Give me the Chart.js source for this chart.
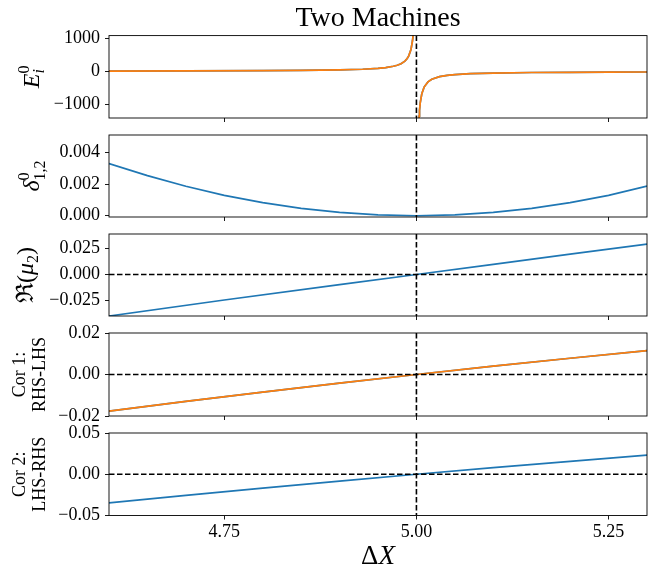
<!DOCTYPE html>
<html>
<head>
<meta charset="utf-8">
<script src="https://cdn.jsdelivr.net/npm/chart.js@4.4.1/dist/chart.umd.min.js"></script>
<style>
  html, body { margin: 0; padding: 0; background: #fff; }
  #wrap { position: relative; width: 662px; height: 568px; }
  .panel { position: absolute; left: 0; width: 662px; }
</style>
</head>
<body>
<div id="wrap">
  <div class="panel" style="top:0px;height:124px"><canvas id="p1"></canvas></div>
  <div class="panel" style="top:123px;height:100px"><canvas id="p2"></canvas></div>
  <div class="panel" style="top:222px;height:100px"><canvas id="p3"></canvas></div>
  <div class="panel" style="top:321px;height:101px"><canvas id="p4"></canvas></div>
  <div class="panel" style="top:421px;height:147px"><canvas id="p5"></canvas></div>
</div>
<script>
// shared x axis
const xMin = 4.6, xMax = 5.3;
const xTicks = [4.75, 5.0, 5.25];
const xTickLabels = ['4.75', '5.00', '5.25'];
const markerX = 5.0;

// E_i^0 (null = break at the pole)
const eX = [4.60, 4.70, 4.80, 4.85, 4.90, 4.93, 4.95, 4.96, 4.97, 4.975, 4.98, 4.985, 4.988, 4.99, 4.993, 4.995, 4.996, 4.997,
            5.0,
            5.003, 5.0035, 5.004, 5.005, 5.007, 5.01, 5.015, 5.02, 5.03, 5.04, 5.05, 5.07, 5.10, 5.15, 5.20, 5.25, 5.30];
const eY = [12, 16, 24, 31, 47, 67, 94, 118, 157, 188, 235, 313, 392, 470, 671, 940, 1175, 1567,
            null,
            -1567, -1343, -1175, -940, -671, -470, -313, -235, -157, -118, -94, -67, -47, -31, -24, -19, -16];
const eTicks = [-1000, 0, 1000];
const eTickLabels = ['\u22121000', '0', '1000'];

// delta^0_{1,2}
const deltaX = [4.60, 4.65, 4.70, 4.75, 4.80, 4.85, 4.90, 4.95, 5.00, 5.05, 5.10, 5.15, 5.20, 5.25, 5.30];
const deltaY = [0.0033, 0.00253, 0.00186, 0.00129, 0.00083, 0.00047, 0.00021, 0.00005, 0.0, 0.00005, 0.00021, 0.00047, 0.00083, 0.00129, 0.00187];
const deltaTicks = [0, 0.002, 0.004];
const deltaTickLabels = ['0.000', '0.002', '0.004'];

// Re(mu_2)
const muX = [4.60, 4.75, 4.90, 5.00, 5.10, 5.20, 5.30];
const muY = [-0.0403, -0.0248, -0.0099, 0.0, 0.0099, 0.0197, 0.0295];
const muTicks = [-0.025, 0, 0.025];
const muTickLabels = ['\u22120.025', '0.000', '0.025'];

// Cor 1: RHS-LHS
const cor1X = [4.60, 4.70, 4.80, 4.90, 5.00, 5.10, 5.20, 5.30];
const cor1Y = [-0.01765, -0.01299, -0.00849, -0.00416, 0.0, 0.0040, 0.00783, 0.0115];
const cor1Ticks = [-0.02, 0, 0.02];
const cor1TickLabels = ['\u22120.02', '0.00', '0.02'];

// Cor 2: LHS-RHS
const cor2X = [4.60, 4.70, 4.80, 4.90, 5.00, 5.10, 5.20, 5.30];
const cor2Y = [-0.0348, -0.0257, -0.0168, -0.0083, 0.0, 0.0080, 0.0157, 0.0231];
const cor2Ticks = [-0.05, 0, 0.05];
const cor2TickLabels = ['\u22120.05', '0.00', '0.05'];

const BLUE = '#1f77b4', ORANGE = '#ff7f0e';
const SERIF = "'Liberation Serif', 'DejaVu Serif', serif";

function pts(xs, ys) {
    return xs.map(function(x, i) { return {x: x, y: ys[i]}; });
}

// draw a run of text pieces (for the math labels), optionally rotated
function drawRuns(ctx, runs, cx, cy, rotate) {
    var starts = [], cursor = 0, prevStart = 0;
    runs.forEach(function(r) {
        ctx.font = r.f;
        var w = ctx.measureText(r.t).width;
        var s = r.stack ? prevStart : cursor;
        starts.push(s);
        cursor = Math.max(cursor, s + w);
        prevStart = s;
    });
    ctx.save();
    ctx.translate(cx, cy);
    if (rotate) ctx.rotate(-Math.PI / 2);
    ctx.fillStyle = '#000';
    ctx.textBaseline = 'alphabetic';
    ctx.textAlign = 'left';
    runs.forEach(function(r, i) {
        ctx.font = r.f;
        ctx.fillText(r.t, starts[i] - cursor / 2, (r.base || 0) + (r.dy || 0));
    });
    ctx.restore();
}

const decor = {
    id: 'decor',
    afterDatasetsDraw: function(chart, args, opts) {
        var ctx = chart.ctx, a = chart.chartArea;
        ctx.save();
        ctx.beginPath();
        ctx.rect(a.left, a.top, a.right - a.left, a.bottom - a.top);
        ctx.clip();
        ctx.strokeStyle = '#000';
        ctx.lineWidth = 1.6;
        ctx.setLineDash([5.5, 2.5]);
        var px = chart.scales.x.getPixelForValue(markerX);
        ctx.beginPath();
        ctx.moveTo(px, a.top);
        ctx.lineTo(px, a.bottom);
        ctx.stroke();
        if (opts.zeroLine) {
            var py = chart.scales.y.getPixelForValue(0);
            ctx.beginPath();
            ctx.moveTo(a.left, py);
            ctx.lineTo(a.right, py);
            ctx.stroke();
        }
        ctx.restore();
    },
    afterDraw: function(chart, args, opts) {
        var ctx = chart.ctx, a = chart.chartArea;
        ctx.save();
        ctx.strokeStyle = '#000';
        ctx.lineWidth = 0.9;
        ctx.strokeRect(a.left, a.top, a.right - a.left, a.bottom - a.top);
        ctx.restore();
        (opts.yLabel || []).forEach(function(l) {
            drawRuns(ctx, l.runs, l.x, (a.top + a.bottom) / 2, true);
        });
        if (opts.xLabel) {
            drawRuns(ctx, opts.xLabel, (a.left + a.right) / 2, a.bottom + 39, false);
        }
    }
};

function makePanel(id, o) {
    var last = !!o.last;
    new Chart(document.getElementById(id), {
        type: 'line',
        data: {
            datasets: o.series.map(function(s) {
                return {
                    data: pts(s.x, s.y),
                    borderColor: s.color,
                    borderWidth: 1.7,
                    pointRadius: 0,
                    tension: 0,
                    fill: false
                };
            })
        },
        options: {
            responsive: true,
            maintainAspectRatio: false,
            animation: false,
            layout: {padding: {left: 0, right: 15, top: o.padTop, bottom: 0}},
            plugins: {
                legend: {display: false},
                tooltip: {enabled: false},
                title: o.title ? {
                    display: true,
                    text: o.title,
                    fullSize: false,
                    color: '#000',
                    font: {family: SERIF, size: 28, weight: 'normal'},
                    padding: {top: 2, bottom: 0}
                } : {display: false},
                decor: {yLabel: o.yLabel, zeroLine: o.zeroLine, xLabel: o.xLabel}
            },
            scales: {
                x: {
                    type: 'linear',
                    min: xMin,
                    max: xMax,
                    afterBuildTicks: function(s) { s.ticks = xTicks.map(function(v) { return {value: v}; }); },
                    afterFit: function(s) { s.height = o.xh; s.paddingLeft = 0; s.paddingRight = 0; },
                    grid: {drawOnChartArea: false, drawTicks: true, tickLength: 4, color: '#000', lineWidth: 0.9},
                    border: {display: false},
                    ticks: {
                        display: last,
                        autoSkip: false,
                        maxRotation: 0,
                        padding: 2,
                        color: '#000',
                        font: {family: SERIF, size: 18},
                        callback: function(v, i) { return xTickLabels[i]; }
                    }
                },
                y: {
                    type: 'linear',
                    min: o.range[0],
                    max: o.range[1],
                    afterBuildTicks: function(s) { s.ticks = o.ticks.map(function(v) { return {value: v}; }); },
                    afterFit: function(s) { s.width = 109; s.paddingTop = 0; s.paddingBottom = 0; },
                    grid: {drawOnChartArea: false, drawTicks: true, tickLength: 4, color: '#000', lineWidth: 0.9},
                    border: {display: false},
                    ticks: {
                        autoSkip: false,
                        padding: 5,
                        color: '#000',
                        font: {family: SERIF, size: 18},
                        callback: function(v, i) { return o.tickLabels[i]; }
                    }
                }
            }
        },
        plugins: [decor]
    });
}

var big = '24px ' + SERIF, bigI = 'italic 24px ' + SERIF;
var sm = '16px ' + SERIF, smI = 'italic 16px ' + SERIF;

makePanel('p1', {
    padTop: 0, xh: 6, title: 'Two Machines',
    range: [-1400, 1080], ticks: eTicks, tickLabels: eTickLabels,
    series: [{x: eX, y: eY, color: ORANGE}, {x: eX, y: eY, color: BLUE}],
    yLabel: [{x: 31, runs: [
        {t: 'E', f: bigI, base: 8},
        {t: 'i', f: smI, base: 8, dy: 5},
        {t: '0', f: sm, base: 8, dy: -10, stack: true}
    ]}]
});
makePanel('p2', {
    padTop: 12, xh: 6,
    range: [-0.00008, 0.0051], ticks: deltaTicks, tickLabels: deltaTickLabels,
    series: [{x: deltaX, y: deltaY, color: BLUE}],
    yLabel: [{x: 31, runs: [
        {t: '\u03b4', f: bigI, base: 8},
        {t: '0', f: sm, base: 8, dy: -10},
        {t: '1,2', f: sm, base: 8, dy: 6, stack: true}
    ]}]
});
makePanel('p3', {
    padTop: 12, xh: 6, zeroLine: true,
    range: [-0.0403, 0.0393], ticks: muTicks, tickLabels: muTickLabels,
    series: [{x: muX, y: muY, color: BLUE}],
    yLabel: [{x: 25, runs: [
        {t: '\u211c', f: big, base: 8},
        {t: '(', f: big, base: 8},
        {t: '\u03bc', f: bigI, base: 8},
        {t: '2', f: sm, base: 8, dy: 5},
        {t: ')', f: big, base: 8}
    ]}]
});
makePanel('p4', {
    padTop: 12, xh: 6, zeroLine: true,
    range: [-0.02, 0.02], ticks: cor1Ticks, tickLabels: cor1TickLabels,
    series: [{x: cor1X, y: cor1Y, color: ORANGE}, {x: cor1X, y: cor1Y, color: BLUE}],
    yLabel: [
        {x: 19, runs: [{t: 'Cor 1:', f: '18px ' + SERIF, base: 6}]},
        {x: 39, runs: [{t: 'RHS-LHS', f: '18px ' + SERIF, base: 6}]}
    ]
});
makePanel('p5', {
    padTop: 12, xh: 52.5, zeroLine: true, last: true,
    range: [-0.05, 0.05], ticks: cor2Ticks, tickLabels: cor2TickLabels,
    series: [{x: cor2X, y: cor2Y, color: BLUE}],
    yLabel: [
        {x: 19, runs: [{t: 'Cor 2:', f: '18px ' + SERIF, base: 6}]},
        {x: 39, runs: [{t: 'LHS-RHS', f: '18px ' + SERIF, base: 6}]}
    ],
    xLabel: [
        {t: '\u0394', f: '27px ' + SERIF, base: 9},
        {t: 'X', f: 'italic 27px ' + SERIF, base: 9}
    ]
});
</script>
</body>
</html>
